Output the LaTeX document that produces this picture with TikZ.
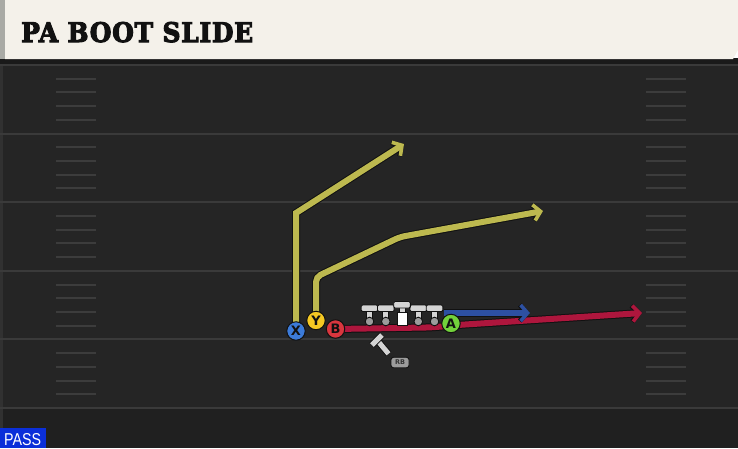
\documentclass[tikz,border=0pt]{standalone}
\usepackage{fontspec}
\usetikzlibrary{arrows.meta}
\newfontfamily\titlefont{DejaVu Serif}[LetterSpace=3, BoldFeatures={FakeBold=4}]
\newfontfamily\labelfont{DejaVu Sans}
\newfontfamily\passfont{Liberation Sans}
\definecolor{cream}{HTML}{F4F1EA}
\definecolor{creamedge}{HTML}{A9AAA5}
\definecolor{fieldbg}{HTML}{252525}
\definecolor{fieldlow}{HTML}{202020}
\definecolor{stripdark}{HTML}{1A1A1A}
\definecolor{edgecol}{HTML}{313131}
\definecolor{yardcol}{HTML}{3A3A3A}
\definecolor{hashcol}{HTML}{3C3C3C}
\definecolor{ycol}{HTML}{BDB94F}
\definecolor{rcol}{HTML}{AE163D}
\definecolor{bcol}{HTML}{2D50A2}
\definecolor{xblue}{HTML}{3C7BD9}
\definecolor{yyellow}{HTML}{F5C823}
\definecolor{bred}{HTML}{D9363E}
\definecolor{agreen}{HTML}{72D13B}
\definecolor{passblue}{HTML}{0B2FD9}
\definecolor{lmfill}{HTML}{D4D4D4}
\definecolor{lmdot}{HTML}{9C9C9C}
\definecolor{outl}{HTML}{111111}
\pgfdeclarelayer{field}
\pgfdeclarelayer{routes}
\pgfsetlayers{field,routes,main}
\begin{document}
\begin{tikzpicture}[x=1pt,y=-1pt,
  player/.style={circle, minimum size=18.5pt, inner sep=0pt, draw=outl, line width=1pt,
    font=\labelfont\bfseries\fontsize{13}{13}\selectfont, text=outl},
  route/.style={line width=6pt, line join=miter, draw=#1,
    preaction={draw=outl, line width=8pt},
    -{Straight Barb[length=7pt,width=16pt,line width=0pt 0.6]}},
  yardline/.style={draw=yardcol, line width=2pt},
  hashmark/.style={draw=hashcol, line width=2pt},
  lmpart/.style={fill=lmfill, draw=outl, line width=0.9pt},
  rbline/.style={draw=lmfill, line width=5pt, preaction={draw=outl, line width=6.8pt}},
  rblabel/.style={draw=outl, fill=lmdot, line width=0.9pt, rounded corners=2.5pt,
    minimum width=18pt, minimum height=10.5pt, inner sep=0pt,
    font=\labelfont\bfseries\fontsize{6.5}{6.5}\selectfont, text=black!80}
]
\useasboundingbox (0,0) rectangle (738,448);
% ---------- field ----------
\begin{pgfonlayer}{field}
  \fill[fieldbg] (0,59) rectangle (738,448);
  \fill[fieldlow] (0,409) rectangle (738,448);
  \fill[stripdark] (0,58) rectangle (738,64);
  \fill[edgecol] (0,64) rectangle (3,448);
  \foreach \k in {0,...,5} {
    \draw[yardline] (0,{65+68.6*\k}) -- (738,{65+68.6*\k});
  }
  \foreach \k in {0,...,4} {
    \foreach \j in {1,...,4} {
      \draw[hashmark] (56,{65+68.6*\k+13.72*\j}) -- (96,{65+68.6*\k+13.72*\j});
      \draw[hashmark] (646,{65+68.6*\k+13.72*\j}) -- (686,{65+68.6*\k+13.72*\j});
    }
  }
  % title bar
  \fill[cream] (5,0) -- (738,0) -- (738,50) -- (733,59) -- (5,59) -- cycle;
  \fill[creamedge] (0,0) rectangle (5,59);
\end{pgfonlayer}
\node[anchor=base west, inner sep=0pt, text=outl] (title) at (21,42)
  {\resizebox{232pt}{20pt}{\titlefont\bfseries PA BOOT SLIDE}};
% PASS tag
\node[fill=passblue, anchor=south west, minimum width=46pt, minimum height=20pt, inner sep=0pt] (passtag) at (0,448) {};
\node[anchor=base west, inner sep=0pt, text=white] (passtext) at (4,445)
  {\resizebox{37pt}{12pt}{\passfont PASS}};
% ---------- players ----------
\node[player, fill=xblue] (X) at (296,331) {X};
\node[player, fill=yyellow] (Y) at (316,320.5) {Y};
\node[player, fill=bred] (B) at (335.5,329) {B};
% linemen
\foreach \lx/\nm in {369.5/lt,385.8/lg,418.3/rg,434.5/rt} {
  \filldraw[lmpart] ({\lx-3},309) rectangle ({\lx+3},320);
  \filldraw[fill=lmdot, draw=outl, line width=0.9pt] (\lx,321.5) circle[radius=4.3pt];
  \filldraw[lmpart, rounded corners=1.2pt] ({\lx-8.3},305) rectangle ({\lx+8.3},311.5);
  \coordinate (\nm) at (\lx,315);
}
\filldraw[lmpart] (399,306) rectangle (405,313.5);
\filldraw[fill=white, draw=outl, line width=0.9pt] (397,312.5) rectangle (407,325.5);
\filldraw[lmpart, rounded corners=1.2pt] (393.7,301.5) rectangle (410.3,308);
\coordinate (C) at (402,315);
\node[player, fill=agreen] (A) at (451,323.5) {A};
% RB
\node[rblabel] (RB) at (400,362.5) {RB};
\coordinate (rbtop) at (377,340);
\coordinate (rbbarA) at (372,345);
\coordinate (rbbarB) at (382,335);
\begin{pgfonlayer}{routes}
  \draw[rbline] ([xshift=-2pt,yshift=3pt]RB.north west) -- (rbtop);
  \draw[rbline] (rbbarA) -- (rbbarB);
\end{pgfonlayer}
% ---------- routes ----------
\coordinate (xc) at (296,213);
\coordinate (xe) at (404,144);
\coordinate (yc) at (316,277);
\coordinate (yk) at (400,237);
\coordinate (ye) at (543,211);
\coordinate (bk) at (420,327.6);
\coordinate (bm) at (462,324.7);
\coordinate (be) at (642,313);
\coordinate (ast) at (444,313);
\coordinate (ae) at (530,313);
\begin{pgfonlayer}{routes}
  \draw[route=ycol] (X.center) -- (xc) -- (xe);
  \draw[route=ycol, rounded corners=5pt] (Y.center) -- (yc) -- (yk) -- (ye);
  \draw[route=rcol] (B.center) -- (bk) .. controls (437,327.5) and (447,325.7) .. (bm) -- (be);
  \draw[route=bcol] (ast) -- (ae);
\end{pgfonlayer}
\end{tikzpicture}
\end{document}
